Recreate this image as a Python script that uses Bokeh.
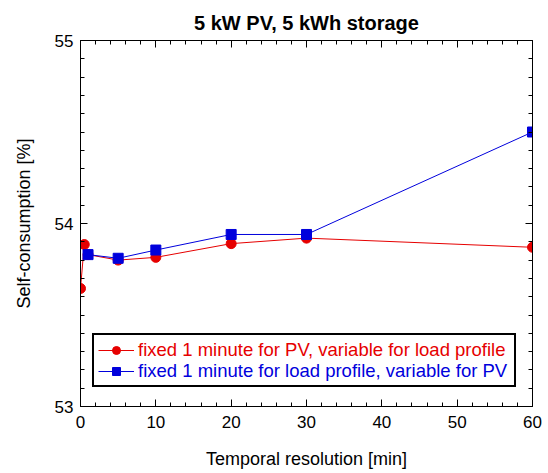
from bokeh.plotting import figure
from bokeh.models import LinearAxis, Legend, LegendItem, FixedTicker, Range1d
from bokeh.embed import file_html
from bokeh.resources import INLINE

# data
red_x = [0, 0.5, 1, 5, 10, 20, 30, 60]
red_y = [53.645, 53.885, 53.83, 53.80, 53.815, 53.89, 53.92, 53.87]
blue_x = [1, 5, 10, 20, 30, 60]
blue_y = [53.83, 53.81, 53.855, 53.94, 53.94, 54.5]
red_label = "fixed 1 minute for PV, variable for load profile"
blue_label = "fixed 1 minute for load profile, variable for PV"
x_ticks = [0, 10, 20, 30, 40, 50, 60]
y_ticks = [53, 54, 55]

FONT = "Liberation Sans"
RED = "#e60000"
BLUE = "#0000dc"

W, H = 546, 472
p = figure(width=W, height=H, output_backend="svg", toolbar_location=None,
           x_range=Range1d(0, 60), y_range=Range1d(53, 55),
           min_border_left=80, min_border_right=W - 532, min_border_top=40,
           min_border_bottom=H - 406,
           title="5 kW PV, 5 kWh storage")
p.title.text_font = FONT
p.title.text_font_size = "20px"
p.title.text_font_style = "bold"
p.title.text_color = "black"
p.title.align = "center"
p.title.vertical_align = "top"
p.outline_line_color = "black"
p.outline_line_width = 1
p.grid.visible = False
p.background_fill_color = "white"
p.border_fill_color = "white"

x_minor = [v for v in range(0, 61, 2) if v % 10 != 0]
y_minor = [round(53 + i * 0.1, 1) for i in range(21) if i % 10 != 0]


def style_axis(ax, ticks, minor, labels=True):
    ax.ticker = FixedTicker(ticks=ticks, minor_ticks=minor)
    ax.major_tick_in = 7
    ax.major_tick_out = 0
    ax.minor_tick_in = 4
    ax.minor_tick_out = 0
    ax.axis_line_color = "black"
    ax.major_tick_line_color = "black"
    ax.minor_tick_line_color = "black"
    ax.major_label_text_font = FONT
    ax.major_label_text_font_size = "17px"
    ax.major_label_text_color = "black"
    ax.axis_label_text_font = FONT
    ax.axis_label_text_font_size = "18px"
    ax.axis_label_text_font_style = "normal"
    ax.axis_label_text_color = "black"
    if not labels:
        ax.major_label_text_alpha = 0
        ax.major_label_text_font_size = "1px"
        ax.major_label_standoff = 0


xa = p.xaxis[0]
style_axis(xa, x_ticks, x_minor)
xa.axis_label = "Temporal resolution [min]"
xa.major_label_standoff = 9
xa.axis_label_standoff = 18

ya = p.yaxis[0]
style_axis(ya, y_ticks, y_minor)
ya.axis_label = "Self-consumption [%]"
ya.major_label_standoff = 7
ya.axis_label_standoff = 18

top = LinearAxis()
style_axis(top, x_ticks, x_minor, labels=False)
p.add_layout(top, "above")

right = LinearAxis()
style_axis(right, y_ticks, y_minor, labels=False)
p.add_layout(right, "right")

rl = p.line(red_x, red_y, line_color=RED, line_width=1)
rm = p.scatter(red_x, red_y, marker="circle", size=10, fill_color=RED, line_color=RED)
bl = p.line(blue_x, blue_y, line_color=BLUE, line_width=1)
bm = p.scatter(blue_x, blue_y, marker="square", size=10, fill_color=BLUE, line_color=BLUE)

# invisible helper renderer for the legend frame
frame_dummy = p.line([], [], line_alpha=0)

box = Legend(items=[LegendItem(label=" ", renderers=[frame_dummy])],
             location=(12, 19), orientation="vertical",
             border_line_color="black", border_line_width=2, border_line_alpha=1,
             background_fill_color="white", background_fill_alpha=1,
             padding=6, spacing=0, margin=0,
             label_height=38, glyph_height=38, glyph_width=36,
             label_standoff=4, label_width=368,
             label_text_font=FONT, label_text_font_size="14px",
             label_text_alpha=0)
p.add_layout(box, "center")


def item_legend(label, rends, color, ypos):
    return Legend(items=[LegendItem(label=label, renderers=rends)],
                  location=(18, ypos), orientation="vertical",
                  border_line_alpha=0, background_fill_alpha=0,
                  padding=0, spacing=0, margin=0,
                  label_height=20, glyph_height=20, glyph_width=36,
                  label_standoff=4,
                  label_text_font=FONT, label_text_font_size="18.5px",
                  label_text_color=color)


p.add_layout(item_legend(red_label, [rl, rm], RED, 45), "center")
p.add_layout(item_legend(blue_label, [bl, bm], BLUE, 24), "center")

open("out.html", "w").write(file_html(p, INLINE))
